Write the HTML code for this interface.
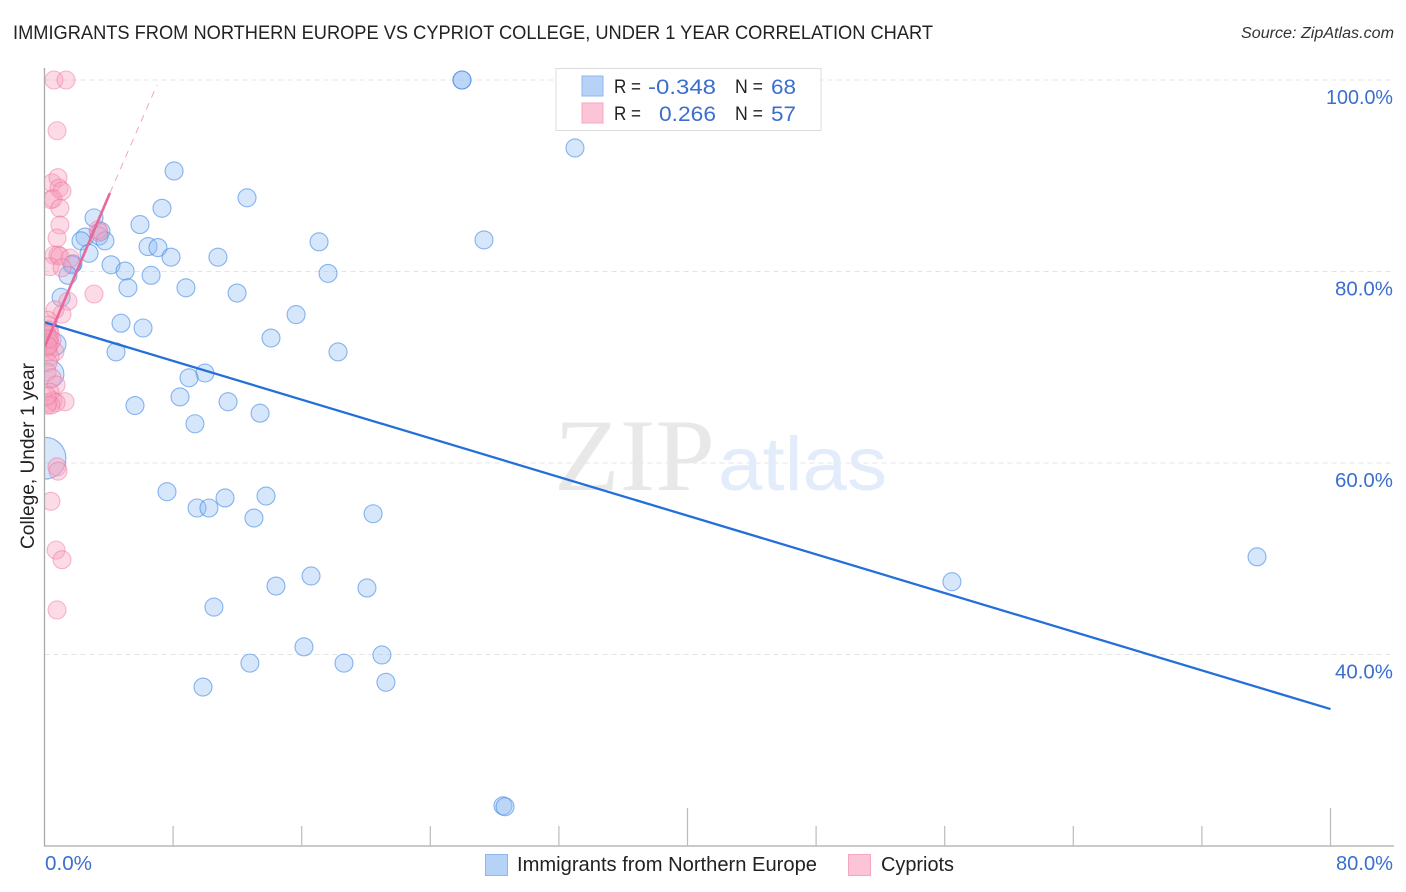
<!DOCTYPE html>
<html>
<head>
<meta charset="utf-8">
<title>Immigrants from Northern Europe vs Cypriot College, Under 1 Year Correlation Chart</title>
<style>
html,body{margin:0;padding:0;background:#fff;}
svg{display:block;font-family:"Liberation Sans",sans-serif;}
</style>
</head>
<body>
<svg id="chart" xmlns="http://www.w3.org/2000/svg" width="1406" height="892" viewBox="0 0 1406 892">
  <defs>
    <clipPath id="plot-clip"><rect x="44.5" y="60" width="1350" height="786"/></clipPath>
  </defs>
  <text x="13" y="39" font-size="19" fill="#222" textLength="920" lengthAdjust="spacingAndGlyphs">IMMIGRANTS FROM NORTHERN EUROPE VS CYPRIOT COLLEGE, UNDER 1 YEAR CORRELATION CHART</text>
  <text x="1394" y="38" font-size="15.5" font-style="italic" fill="#333" text-anchor="end" textLength="153" lengthAdjust="spacingAndGlyphs">Source: ZipAtlas.com</text>

  <g id="grid"></g>

  <g>
    <text x="554" y="490" font-family="'Liberation Serif',serif" font-size="103" fill="#e8e8e8" textLength="161" lengthAdjust="spacingAndGlyphs">ZIP</text>
    <text x="718" y="490" font-size="76" fill="#e3ecfa" textLength="169" lengthAdjust="spacingAndGlyphs">atlas</text>
  </g>

  <g id="blue-points" clip-path="url(#plot-clip)"></g>
  <g id="pink-points" clip-path="url(#plot-clip)"></g>
  <g id="trends"></g>
  <g id="axes"></g>
  <g id="x-labels"></g>
  <g id="y-labels"></g>

  <text transform="translate(34 456) rotate(-90)" font-size="19" fill="#222" text-anchor="middle" textLength="186" lengthAdjust="spacingAndGlyphs">College, Under 1 year</text>

  <g>
    <rect x="556" y="68.5" width="265" height="62" fill="#fff" stroke="#dcdcdc" stroke-width="1"/>
    <rect x="582" y="76" width="21" height="20" fill="#b6d2f7" stroke="#8db8ee" stroke-width="1"/>
    <rect x="582" y="103" width="21" height="20" fill="#fcc5d7" stroke="#f5a6c0" stroke-width="1"/>
    <text x="614" y="93" font-size="19" fill="#222" textLength="27" lengthAdjust="spacingAndGlyphs">R =</text>
    <text x="614" y="120" font-size="19" fill="#222" textLength="27" lengthAdjust="spacingAndGlyphs">R =</text>
    <text x="716" y="94" font-size="21" fill="#3b6fcf" text-anchor="end" textLength="68" lengthAdjust="spacingAndGlyphs">-0.348</text>
    <text x="716" y="121" font-size="21" fill="#3b6fcf" text-anchor="end" textLength="57" lengthAdjust="spacingAndGlyphs">0.266</text>
    <text x="735" y="93" font-size="19" fill="#222" textLength="28" lengthAdjust="spacingAndGlyphs">N =</text>
    <text x="735" y="120" font-size="19" fill="#222" textLength="28" lengthAdjust="spacingAndGlyphs">N =</text>
    <text x="771" y="94" font-size="21" fill="#3b6fcf" textLength="25" lengthAdjust="spacingAndGlyphs">68</text>
    <text x="771" y="121" font-size="21" fill="#3b6fcf" textLength="25" lengthAdjust="spacingAndGlyphs">57</text>
  </g>

  <g>
    <g>
      <rect x="485.5" y="854.5" width="22" height="21" fill="#b6d2f7" stroke="#8db8ee" stroke-width="1"/>
      <text x="517" y="871" font-size="20" fill="#222" textLength="300" lengthAdjust="spacingAndGlyphs">Immigrants from Northern Europe</text>
    </g>
    <g>
      <rect x="848.5" y="854.5" width="22" height="21" fill="#fcc5d7" stroke="#f5a6c0" stroke-width="1"/>
      <text x="881" y="871" font-size="20" fill="#222" textLength="73" lengthAdjust="spacingAndGlyphs">Cypriots</text>
    </g>
  </g>
</svg>

<script>
const xTickValues = [8,16,24,32,40,48,56,64,72,80];
const xTallTicks = [40,80];
const xLabelValues = ['0.0%','80.0%'];
const yTickValues = [100,80,60,40];
const yTickLabels = ['100.0%','80.0%','60.0%','40.0%'];

const blueX = [25.97,25.97,33.0,8.06,12.6,7.31,5.94,3.08,27.34,17.08,2.52,2.27,3.51,3.39,3.76,6.44,7.06,2.77,7.87,10.79,4.14,5.01,6.63,1.77,1.71,1.46,17.64,5.19,8.8,11.98,1.03,15.65,4.76,6.13,14.09,4.45,18.26,0.65,9.98,8.99,0.34,8.43,11.42,5.63,13.41,9.36,0.03,7.62,9.49,10.23,11.23,13.78,20.44,13.03,75.43,56.45,14.4,16.58,20.06,10.54,16.14,20.99,18.63,12.78,21.24,9.86,28.52,28.65];
const blueY = [100,100,92.9,90.5,87.7,86.6,84.9,85.6,83.3,83.1,83.6,83.2,84.2,83.7,83.2,82.6,82.5,81.9,81.5,81.5,80.7,80.05,79.6,80.8,80.7,79.6,79.8,78.3,78.3,77.75,77.3,75.5,74.6,74.1,73.05,71.6,71.6,72.4,69.4,68.9,69.3,66.9,66.4,66.0,65.2,64.1,60.5,57.0,55.3,55.3,56.35,56.55,54.7,54.25,50.2,47.6,47.15,48.2,46.95,44.95,40.8,39.95,39.1,39.1,37.1,36.6,24.2,24.1];
const blueWeight = [1,1,1,1,1,1,1,1,1,1,1,1,1,1,1,1,1,1,1,1,1,1,1,1,1,1,1,1,1,1,1,1,1,1,1,1,1,1.5,1,1,2.4,1,1,1,1,1,5.4,1,1,1,1,1,1,1,1,1,1,1,1,1,1,1,1,1,1,1,1,1];

const pinkX = [0.59,1.34,0.78,0.47,0.84,0.9,1.09,0.4,0.53,0.96,0.96,0.78,0.59,0.84,0.96,0.34,1.59,1.09,1.46,3.08,1.09,0.65,0.22,0.22,0.28,0.34,0.16,0.22,0.47,0.34,0.09,0.16,0.22,0.65,0.34,0.22,0.16,0.47,0.72,0.34,0.53,1.28,0.22,0.72,0.4,0.16,0.78,0.84,0.4,0.72,1.09,0.78,3.33,3.39,0.16,0.28,0.22];
const pinkY = [100,100,94.7,89.25,89.8,88.7,88.4,87.5,87.6,86.6,84.85,83.5,81.7,81.7,81.6,80.5,81.4,80.4,76.9,77.65,75.55,76.0,74.9,74.4,73.9,73.6,73.4,72.85,72.85,72.5,72.0,72.3,71.6,71.6,71.1,70.5,69.5,68.9,68.15,67.4,66.5,66.4,66.3,66.3,66.05,66.05,59.6,59.15,56.0,50.9,49.9,44.65,84.35,84.1,67.0,73.0,72.2];
const pinkWeight = [1,1,1,1,1,1,1,1,1,1,1,1,1,1,1,1,1,1,1,1,1,1,1,1,1,1,1,1,1,1,1,1,1,1,1,1,1,1,1,1,1,1,1,1,1,1,1,1,1,1,1,1,1,1,1,1,1];

const blueTrendX = [0,80];
const blueTrendY = [74.7,34.3];
const pinkSolidX = [0.03,4.07];
const pinkSolidY = [72.2,88.2];
const pinkDashX = [4.07,7.0];
const pinkDashY = [88.2,99.5];

const NS = 'http://www.w3.org/2000/svg';
const sx = v => 44.5 + v * 16.075;
const sy = v => 80 + (100 - v) * 9.575;
const mk = (tag, attrs) => {
  const el = document.createElementNS(NS, tag);
  for (const k in attrs) el.setAttribute(k, attrs[k]);
  return el;
};

const grid = document.getElementById('grid');
yTickValues.forEach(v => {
  const line = mk('line', {x1:44.5, x2:1394, y1:sy(v), y2:sy(v), stroke:'#e4e4e4', 'stroke-width':1, 'stroke-dasharray':'5 4'});
  
  
  grid.appendChild(line);
});

const axes = document.getElementById('axes');
const yAxis = mk('line', {x1:44.5, x2:44.5, y1:68, y2:846.5, stroke:'#aaa', 'stroke-width':1.3});


axes.appendChild(yAxis);
const xAxis = mk('line', {x1:44, x2:1394, y1:846, y2:846, stroke:'#aaa', 'stroke-width':1.3});


axes.appendChild(xAxis);
xTickValues.forEach(v => {
  const tall = xTallTicks.includes(v);
  const tick = mk('line', {x1:sx(v), x2:sx(v), y1: tall ? 808 : 826, y2:846, stroke:'#bbb', 'stroke-width':1.2});
  
  
  axes.appendChild(tick);
});

const yLabels = document.getElementById('y-labels');
yTickValues.forEach((v, i) => {
  const t = mk('text', {x:1393, y:sy(v) + 24, 'font-size':20, fill:'#3b6fcf', 'text-anchor':'end', textLength: i === 0 ? 67 : 58, lengthAdjust:'spacingAndGlyphs'});
  
  
  t.textContent = yTickLabels[i];
  yLabels.appendChild(t);
});

const xLabels = document.getElementById('x-labels');
const x0 = mk('text', {x:45, y:870, 'font-size':20, fill:'#3b6fcf', textLength:47, lengthAdjust:'spacingAndGlyphs'});


x0.textContent = xLabelValues[0];
xLabels.appendChild(x0);
const x1 = mk('text', {x:1393, y:870, 'font-size':20, fill:'#3b6fcf', 'text-anchor':'end', textLength:57, lengthAdjust:'spacingAndGlyphs'});


x1.textContent = xLabelValues[1];
xLabels.appendChild(x1);

const blueGroup = document.getElementById('blue-points');
blueX.forEach((v, i) => {
  const c = mk('circle', {cx:sx(v), cy:sy(blueY[i]), r:9 * Math.sqrt(blueWeight[i]), fill:'rgba(147,190,245,0.38)', stroke:'rgba(50,125,225,0.55)', 'stroke-width':1.1});
  
  
  blueGroup.appendChild(c);
});

const pinkGroup = document.getElementById('pink-points');
pinkX.forEach((v, i) => {
  const c = mk('circle', {cx:sx(v), cy:sy(pinkY[i]), r:9 * Math.sqrt(pinkWeight[i]), fill:'rgba(248,160,190,0.38)', stroke:'rgba(238,110,155,0.46)', 'stroke-width':1.1});
  
  
  pinkGroup.appendChild(c);
});

const trends = document.getElementById('trends');
const blueTrend = mk('line', {x1:sx(blueTrendX[0]), y1:sy(blueTrendY[0]), x2:sx(blueTrendX[1]), y2:sy(blueTrendY[1]), stroke:'#2470d8', 'stroke-width':2.3});


trends.appendChild(blueTrend);
const pinkSolid = mk('line', {x1:sx(pinkSolidX[0]), y1:sy(pinkSolidY[0]), x2:sx(pinkSolidX[1]), y2:sy(pinkSolidY[1]), stroke:'#e8689a', 'stroke-width':2.6});


trends.appendChild(pinkSolid);
const pinkDash = mk('line', {x1:sx(pinkDashX[0]), y1:sy(pinkDashY[0]), x2:sx(pinkDashX[1]), y2:sy(pinkDashY[1]), stroke:'#f2a5c1', 'stroke-width':1, 'stroke-dasharray':'7 6'});


trends.appendChild(pinkDash);
</script>
</body>
</html>
